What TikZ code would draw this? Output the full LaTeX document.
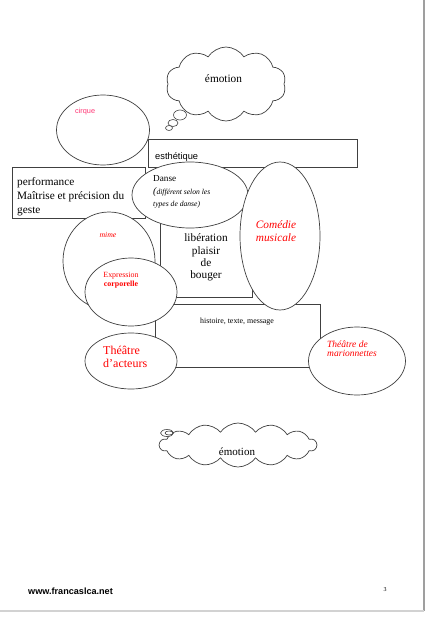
\documentclass[tikz,border=0pt]{standalone}
\usepackage{fontspec}
\setmainfont{Liberation Serif}
\setsansfont{Liberation Sans}
\usetikzlibrary{shapes.geometric,shapes.symbols}
\definecolor{ln}{gray}{0.25}
\definecolor{txtred}{rgb}{1,0,0}
\definecolor{pinkred}{rgb}{1,0.2,0.45}
\newcommand{\fs}[2]{\fontsize{#1}{#2}\selectfont}
\begin{document}
\begin{tikzpicture}[x=1pt,y=-1pt,
  ell/.style={ellipse, draw=ln, fill=white, line width=0.7pt, inner sep=0pt},
  boxs/.style={rectangle, draw=ln, line width=0.8pt, inner sep=0pt},
  txt/.style={inner sep=0pt},
  bubble/.style={ellipse, draw=ln, fill=white, line width=0.6pt, inner sep=0pt},
  cloudshape/.style={cloud, draw=ln, fill=white, line width=0.7pt, inner sep=0pt}]
\useasboundingbox[fill=white] (0,0) rectangle (427,618);
% page edges
\coordinate (pr1) at (424,0);
\coordinate (pr2) at (424,611);
\coordinate (pb1) at (0,611);
\draw[gray!75, line width=1.5pt] (pr1) -- (pr2);
\draw[gray!35, line width=1.5pt] (pb1) -- (pr2);

% boxes
\node[boxs, minimum width=209pt, minimum height=28pt] (esth) at (252.5,153) {};
\node[boxs, minimum width=133pt, minimum height=51pt] (perf) at (78.5,192.5) {};
\node[boxs, minimum width=92pt, minimum height=97pt] (lib) at (206,248.5) {};
\node[boxs, minimum width=165pt, minimum height=63pt] (hist) at (237.5,335.5) {};

% top cloud
\node[cloudshape, cloud puffs=10, cloud puff arc=115, aspect=1.6,
      minimum width=120pt, minimum height=74pt] (cloudA) at (226,84) {};
\node[bubble, minimum width=13pt, minimum height=10pt] (bA1) at (180,115) {};
\node[bubble, minimum width=10pt, minimum height=7pt] (bA2) at (173,123) {};
\node[bubble, minimum width=7pt, minimum height=5pt] (bA3) at (169,128) {};

% ellipses
\node[ell, minimum width=93pt, minimum height=70pt] (cirque) at (103,130) {};
\node[ell, minimum width=116pt, minimum height=66pt] (danse) at (190,195) {};
\node[ell, minimum width=80pt, minimum height=148pt] (comedie) at (280,236) {};
\node[ell, minimum width=92pt, minimum height=98pt] (mime) at (109,261) {};
\node[ell, minimum width=92pt, minimum height=68pt] (expr) at (131,292) {};
\node[ell, minimum width=92pt, minimum height=56pt] (acteurs) at (131,361) {};
\node[ell, minimum width=97pt, minimum height=68pt] (mario) at (357,361) {};

% bottom cloud
\node[cloudshape, cloud puffs=14, cloud puff arc=110, aspect=3.6,
      minimum width=157pt, minimum height=44pt] (cloudB) at (238,445) {};
\node[bubble, minimum width=13pt, minimum height=7pt] (bB1) at (167,433) {};
\node[bubble, minimum width=8pt, minimum height=4pt] (bB2) at (169,433) {};

% texts
\node[txt, anchor=center, font=\fs{11.3}{14}] (temoA) at (223.5,79) {émotion};
\node[txt, anchor=west, font=\sffamily\fs{7.3}{9}, text=pinkred] (tcirque) at (75,112) {cirque};
\node[txt, anchor=west, font=\sffamily\fs{9.3}{11}] (testh) at (155,157) {esthétique};
\node[txt, anchor=west, align=left, font=\fs{11.3}{14}] (tperf) at (17,197)
  {performance\\Maîtrise et précision du\\geste};
\node[txt, anchor=west, font=\fs{9.2}{11}] (tdanse) at (153,179) {Danse};
\node[txt, anchor=west, align=left, font=\itshape\fs{7.6}{11.5}] (tdanse2) at (153,198)
  {{\fs{10}{11.5}(}différent selon les\\types de danse)};
\node[txt, align=center, font=\fs{11.3}{12.4}] (tlib) at (206,257.5)
  {libération\\plaisir\\de\\bouger};
\node[txt, align=center, font=\itshape\fs{11.3}{13}, text=txtred] (tcom) at (276,231.5)
  {Comédie\\musicale};
\node[txt, font=\itshape\fs{7.8}{9}, text=txtred] (tmime) at (108,235) {mime};
\node[txt, align=center, font=\fs{7.9}{9}, text=txtred] (texpr) at (121,280.5)
  {Expression\\\textbf{corporelle}};
\node[txt, font=\fs{7.9}{9}] (thist) at (237,322) {histoire, texte, message};
\node[txt, anchor=west, align=left, font=\fs{12}{12.5}, text=txtred] (tact) at (103,357)
  {Théâtre\\d'acteurs};
\node[txt, anchor=west, align=left, font=\itshape\fs{9.5}{9.5}, text=txtred] (tmario) at (327,348.5)
  {Théâtre de\\marionnettes};
\node[txt, anchor=center, font=\fs{11}{13}] (temoB) at (237,452) {émotion};
\node[txt, anchor=west, font=\sffamily\bfseries\fs{9.1}{11}] (tweb) at (28,591) {www.francaslca.net};
\node[txt, anchor=center, font=\fs{6}{7}] (tpage) at (385,590) {3};
\end{tikzpicture}
\end{document}
